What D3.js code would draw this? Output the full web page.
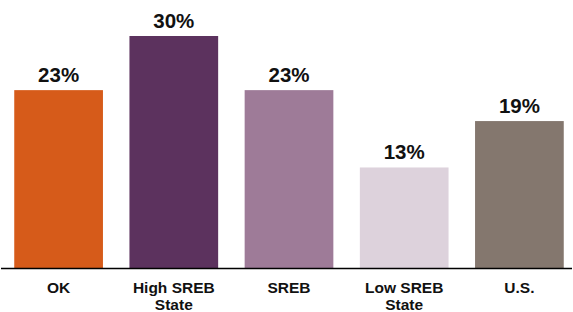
<!DOCTYPE html>
<html><head><meta charset="utf-8">
<script src="https://cdn.jsdelivr.net/npm/d3@7"></script>
<style>body{margin:0;background:#fff}svg{display:block}</style>
</head><body>
<svg id="c" width="573" height="312"></svg>
<script>
const categories = [["OK"], ["High SREB", "State"], ["SREB"], ["Low SREB", "State"], ["U.S."]];
const values = [23, 30, 23, 13, 19];
const colors = ["#D65B1A", "#5C325E", "#9E7B98", "#DDD2DC", "#84776E"];

const svg = d3.select("#c");
const baseline = 268;
const x = d3.scaleBand().domain(d3.range(values.length)).range([1, 577]).paddingInner(0.23).paddingOuter(0.115);
const y = d3.scaleLinear().domain([0, 30]).range([baseline, 36]);

svg.selectAll("rect.bar").data(values).join("rect")
  .attr("x", (d, i) => x(i)).attr("width", x.bandwidth())
  .attr("y", d => y(d)).attr("height", d => baseline - y(d))
  .attr("fill", (d, i) => colors[i]);

svg.selectAll("text.val").data(values).join("text")
  .attr("x", (d, i) => x(i) + x.bandwidth() / 2)
  .attr("y", d => y(d) - 8)
  .attr("text-anchor", "middle")
  .attr("font-family", "Liberation Sans, Arial, sans-serif")
  .attr("font-weight", "bold").attr("font-size", 20.5)
  .attr("fill", "#111")
  .text(d => d + "%");

svg.append("line").attr("x1", 1).attr("x2", 572).attr("y1", baseline + 0.5).attr("y2", baseline + 0.5)
  .attr("stroke", "#000").attr("stroke-width", 1.3);

const lab = svg.selectAll("text.cat").data(categories).join("text")
  .attr("text-anchor", "middle")
  .attr("font-family", "Liberation Sans, Arial, sans-serif")
  .attr("font-weight", "bold").attr("font-size", 15.5)
  .attr("fill", "#111");
lab.each(function(d, i) {
  d3.select(this).selectAll("tspan").data(d).join("tspan")
    .attr("x", x(i) + x.bandwidth() / 2)
    .attr("y", (t, j) => 293 + j * 16.5)
    .text(t => t);
});
</script>
</body></html>
